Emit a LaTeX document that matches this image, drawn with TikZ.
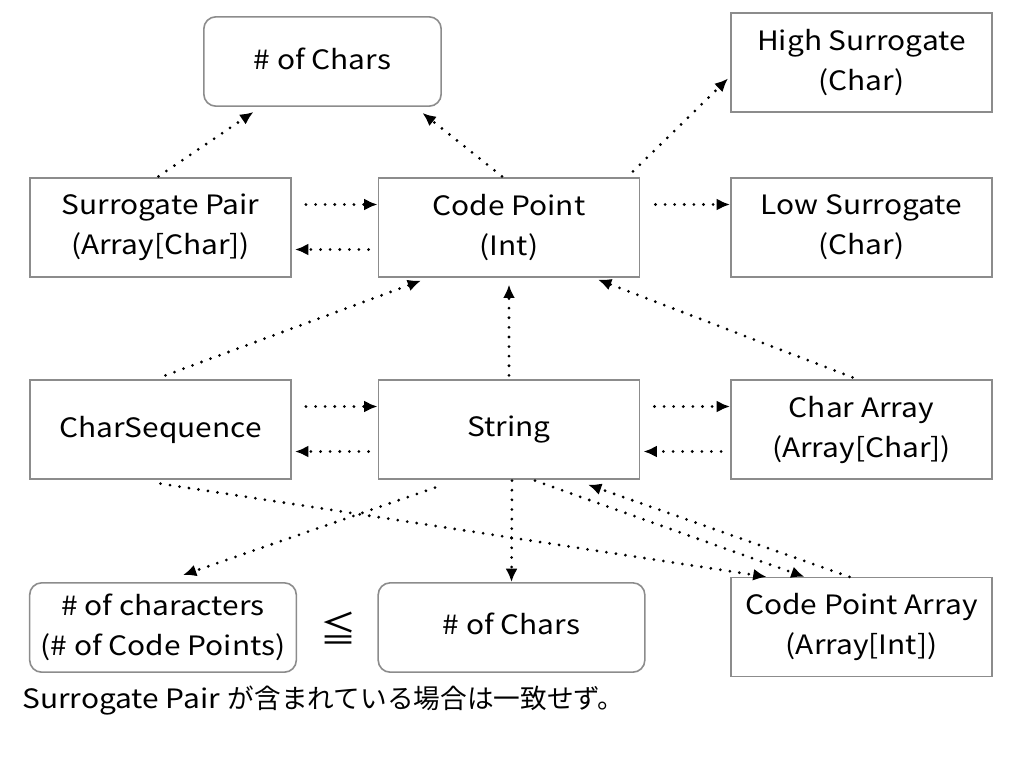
\documentclass[tikz,border=0pt]{standalone}
\usepackage{fontspec}
\setmainfont{Noto Sans CJK JP}[FakeStretch=1.12]
\newfontfamily\jp{Noto Sans CJK JP}
\usetikzlibrary{calc,arrows.meta,positioning}

\begin{document}
\begin{tikzpicture}[x=0.75pt, y=-0.75pt,
    every node/.style={font=\fontsize{20}{30}\selectfont, align=center},
    box/.style={draw=black!45, line width=1.2pt, minimum width=196pt, minimum height=74pt},
    rbox/.style={box, rounded corners=9pt, minimum height=67pt},
    link/.style={line width=2.3pt, line cap=round, dash pattern=on 0pt off 7.2pt,
        -{Latex[length=10pt,width=9pt]}}]

\useasboundingbox (0,0) rectangle (1024,768);

% top row
\node[rbox, minimum width=178pt] (topchars) at (322.5,61.5) {\raisebox{4pt}{\# of Chars}};
\node[box] (high) at (861.5,62.5) {High Surrogate\\(Char)};

% code point row
\node[box] (pair) at (160.5,227.5) {Surrogate Pair\\(Array[Char])};
\node[box] (cp) at (509,227.5) {Code Point\\(Int)};
\node[box] (low) at (861.5,227.5) {Low Surrogate\\(Char)};

% string row
\node[box] (seq) at (160.5,429.5) {CharSequence};
\node[box] (str) at (509,429.5) {String};
\node[box] (arr) at (861.5,429.5) {Char Array\\(Array[Char])};

% bottom row
\node[rbox, minimum width=200pt] (nchar) at (163,627.5) {\# of characters\\(\# of Code Points)};
\node[font=\jp\fontsize{27}{30}\selectfont] (leq) at (338,628) {≦};
\node[rbox, minimum width=200pt] (nchars) at (511.5,627.5) {\raisebox{5pt}{\# of Chars}};
\node[box] (cparr) at (861.5,627) {Code Point Array\\(Array[Int])};

\node[anchor=west, inner sep=0pt] (note) at (22,701) {Surrogate Pair\hspace{6pt}{\jp が含まれている場合は一致せず。}};

% up to the counts and surrogates
\draw[link] ($(pair.north)+(-2,-1)$) -- ($(topchars.south)+(-69,5)$);
\draw[link] ($(cp.north)+(-7,-1)$) -- ($(topchars.south)+(100,6)$);
\draw[link] ($(cp.north)+(124,-6)$) -- ($(high.west)+(-2,16)$);
\draw[link] ($(cp.east)+(15,-23)$) -- ($(low.west)+(0,-23)$);

% side by side, both ways
\foreach \a/\b in {pair/cp, seq/str, str/arr}
{
    \draw[link] ($(\a.east)+(14,-23)$) -- ($(\b.west)+(0,-23)$);
    \draw[link] ($(\b.west)+(-9,22)$) -- ($(\a.east)+(3,22)$);
}

% up to code point
\draw[link] ($(seq.north)+(5,-4)$) -- ($(cp.south)+(-88,3)$);
\draw[link] ($(str.north)+(0,-4)$) -- ($(cp.south)+(0,7)$);
\draw[link] ($(arr.north)+(-9,-2)$) -- ($(cp.south)+(89,2)$);

% down from string
\draw[link] ($(str.south)+(-74,8)$) -- ($(nchar.north)+(20,-7)$);
\draw[link] ($(str.south)+(3,1)$) -- ($(nchars.north)+(0,0)$);
\draw[link] ($(seq.south)+(0,4)$) -- ($(cparr.north)+(-95,0)$);
\draw[link] ($(str.south)+(26,1)$) -- ($(cparr.north)+(-57,0)$);
\draw[link] ($(cparr.north)+(-12,0)$) -- ($(str.south)+(79,5)$);
\end{tikzpicture}
\end{document}
